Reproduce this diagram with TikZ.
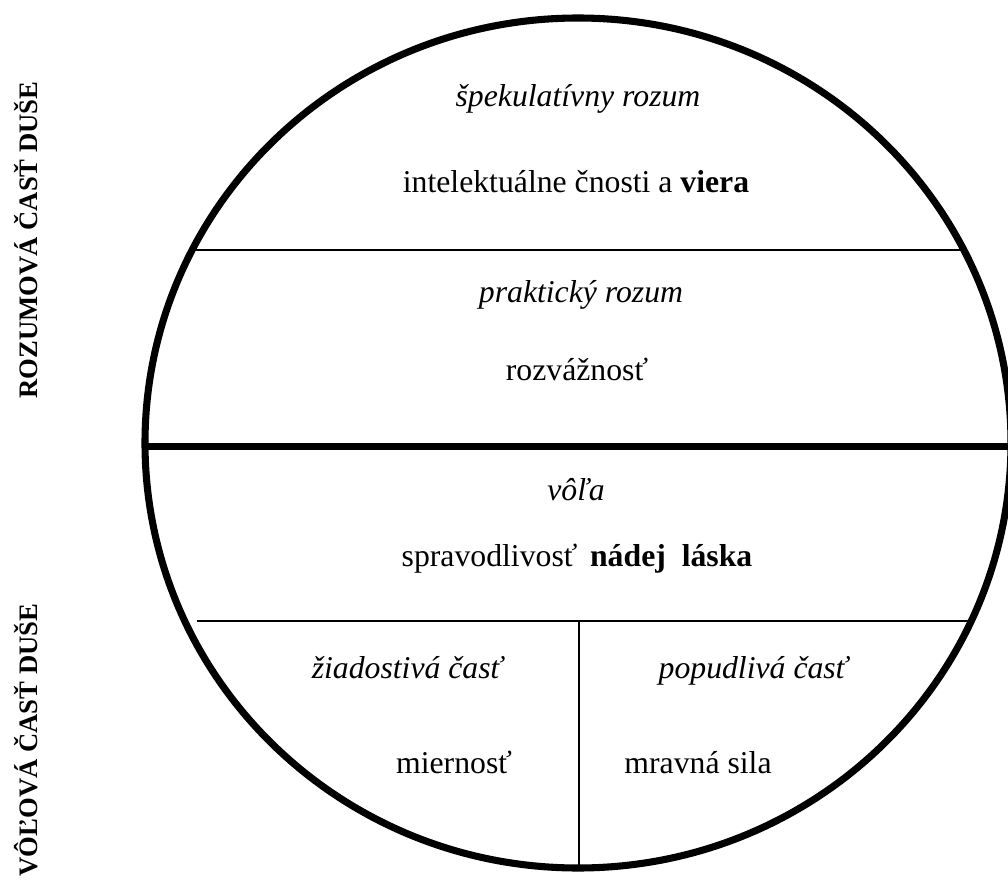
\documentclass[tikz,border=0pt]{standalone}
\usepackage{fontspec}
\setmainfont{Liberation Serif}
\newcommand{\txtsize}{\fontsize{23.8}{28}\selectfont}
\newcommand{\sidesize}{\fontsize{20}{24}\selectfont}

\begin{document}
\begin{tikzpicture}[x=0.75pt, y=-0.75pt,
    part/.style={anchor=base, font=\txtsize\itshape},
    virtue/.style={anchor=base, font=\txtsize},
    side/.style={anchor=base, rotate=90, font=\sidesize\bfseries},
    thinline/.style={line width=1.1pt},
    thickline/.style={line width=5.3pt}]
    \useasboundingbox (0,0) rectangle (1008,881);
    \clip (0,0) rectangle (1008,881);
    \draw[thickline] (578,443) ellipse [x radius=433, y radius=425];
    \coordinate (a1) at (192,250);
    \coordinate (a2) at (966,250);
    \coordinate (b1) at (145,446.5);
    \coordinate (b2) at (1008,446.5);
    \coordinate (c1) at (197,621);
    \coordinate (c2) at (971,621);
    \coordinate (c3) at (579,621);
    \coordinate (c4) at (579,866);
    \draw[thinline] (a1) -- (a2);
    \draw[thickline] (b1) -- (b2);
    \draw[thinline] (c1) -- (c2);
    \draw[thinline] (c3) -- (c4);
    \node[part] (spek) at (578,107) {špekulatívny rozum};
    \node[virtue] (intel) at (576,192) {intelektuálne čnosti a \textbf{viera}};
    \node[part] (prakt) at (581,302) {praktický rozum};
    \node[virtue] (rozv) at (577,380) {rozvážnosť};
    \node[part] (vola) at (576,500) {vôľa};
    \node[virtue] (sprav) at (577,566) {spravodlivosť\hspace{0.4em}\textbf{nádej\hspace{0.5em}láska}};
    \node[part] (ziad) at (407,678) {žiadostivá časť};
    \node[virtue] (mier) at (454,773) {miernosť};
    \node[part] (popud) at (753,678) {popudlivá časť};
    \node[virtue] (mrav) at (698,773) {mravná sila};
    \node[side] (rozum) at (37,240) {ROZUMOVÁ ČASŤ DUŠE};
    \node[side] (vol) at (37,740) {VÔĽOVÁ ČASŤ DUŠE};
\end{tikzpicture}
\end{document}
